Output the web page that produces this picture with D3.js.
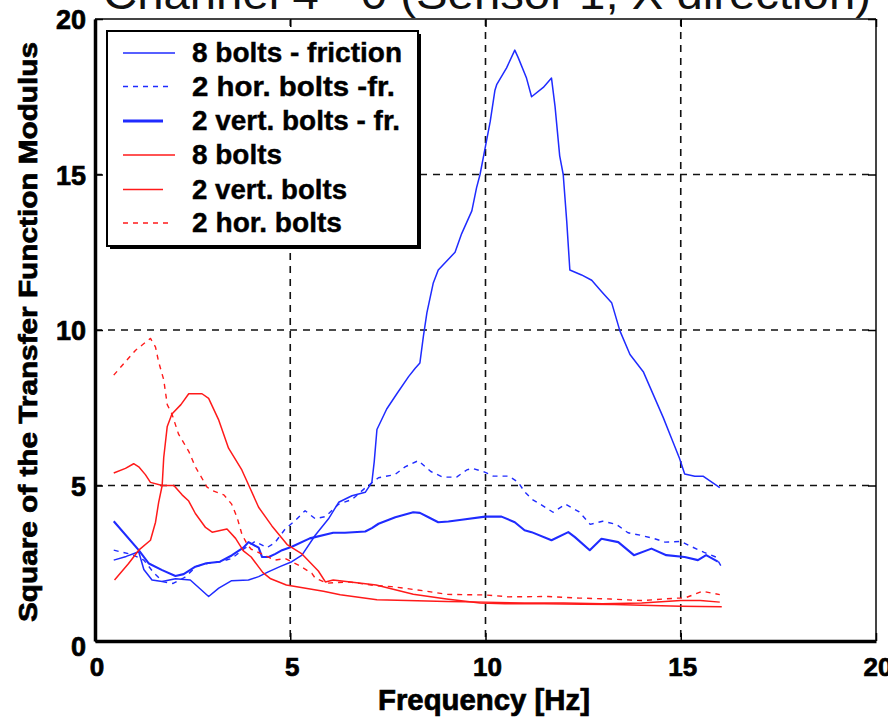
<!DOCTYPE html>
<html>
<head>
<meta charset="utf-8">
<script src="https://cdn.jsdelivr.net/npm/d3@7/dist/d3.min.js"></script>
<style>
  html, body { margin: 0; padding: 0; background: #fff; }
  svg { display: block; }
  .heavy { font-family: "Liberation Sans Narrow", "Liberation Sans", Arial, sans-serif; font-weight: bold; fill: #000; stroke: #000; stroke-width: 0.7px; }
</style>
</head>
<body>
<svg id="chart" width="888" height="718"></svg>
<script>
// ---------------- data ----------------
const titleText = "Channel 4 - 0 (Sensor 1, X direction)";
const xLabel = "Frequency [Hz]";
const yLabel = "Square of the Transfer Function Modulus";
const xTicks = [0, 5, 10, 15, 20];
const yTicks = [0, 5, 10, 15, 20];
const legendLabels = ["8 bolts - friction", "2 hor. bolts -fr.", "2 vert. bolts - fr.", "8 bolts", "2 vert. bolts", "2 hor. bolts"];

// [frequency Hz, value]
const bolts8Friction = [[0.48,2.6],[0.8,2.72],[1.12,2.87],[1.25,2.3],[1.46,1.96],[1.72,1.91],[2.06,2.0],[2.44,1.96],[2.91,1.43],[3.17,1.7],[3.5,1.94],[3.93,1.96],[4.19,2.07],[4.45,2.23],[4.75,2.4],[5.04,2.55],[5.3,2.76],[5.64,3.4],[5.98,3.93],[6.24,4.46],[6.58,4.67],[6.92,4.78],[7.09,5.1],[7.15,5.76],[7.22,6.8],[7.47,7.46],[7.73,7.95],[8.03,8.5],[8.2,8.77],[8.32,8.94],[8.41,9.8],[8.5,10.56],[8.66,11.5],[8.79,11.93],[9.22,12.5],[9.39,13.1],[9.65,13.83],[9.77,14.57],[9.86,15.0],[9.99,15.85],[10.12,16.7],[10.24,17.7],[10.29,17.9],[10.54,18.43],[10.75,19.0],[10.84,18.75],[11.05,18.1],[11.18,17.5],[11.48,17.8],[11.69,18.1],[11.78,17.2],[11.9,15.6],[11.99,15.0],[12.08,13.5],[12.16,11.93],[12.46,11.77],[12.72,11.6],[12.97,11.24],[13.23,10.88],[13.44,9.98],[13.7,9.21],[14.04,8.66],[14.21,8.17],[14.55,7.19],[14.76,6.53],[14.97,5.87],[15.1,5.37],[15.36,5.3],[15.57,5.3],[16.0,4.93]];
const horBoltsFriction = [[0.48,2.92],[0.95,2.78],[1.25,2.6],[1.5,2.2],[1.75,1.9],[2.0,1.85],[2.3,2.05],[2.6,2.4],[2.9,2.5],[3.2,2.55],[3.5,2.65],[3.8,2.95],[4.1,3.2],[4.4,3.0],[4.6,3.15],[4.87,3.6],[5.13,3.88],[5.38,4.19],[5.64,3.93],[5.9,4.0],[6.24,4.4],[6.58,4.55],[6.9,4.9],[7.26,5.25],[7.68,5.35],[7.94,5.6],[8.28,5.8],[8.6,5.45],[8.9,5.27],[9.26,5.27],[9.52,5.5],[9.65,5.55],[9.95,5.45],[10.2,5.3],[10.6,5.3],[10.84,5.1],[11.0,4.8],[11.2,4.55],[11.4,4.4],[11.73,4.14],[12.05,4.4],[12.4,4.15],[12.68,3.75],[13.0,3.85],[13.35,3.75],[13.65,3.48],[13.97,3.4],[14.3,3.3],[14.6,3.18],[15.0,3.2],[15.3,3.02],[15.6,2.85],[15.9,2.7],[16.04,2.39]];
const vertBoltsFriction = [[0.48,3.85],[1.12,2.92],[1.38,2.49],[1.72,2.28],[2.06,2.09],[2.27,2.15],[2.57,2.39],[2.85,2.5],[3.2,2.55],[3.5,2.75],[3.8,3.0],[3.93,3.18],[4.19,3.0],[4.28,2.7],[4.45,2.7],[4.62,2.8],[4.79,2.92],[5.04,3.03],[5.5,3.3],[6.1,3.48],[6.4,3.48],[6.92,3.52],[7.09,3.63],[7.26,3.77],[7.69,3.98],[8.15,4.14],[8.32,4.12],[8.54,3.98],[8.79,3.82],[9.05,3.84],[9.39,3.9],[9.99,4.0],[10.41,4.0],[10.75,3.82],[11.0,3.56],[11.18,3.5],[11.69,3.24],[12.12,3.5],[12.29,3.34],[12.67,2.92],[12.97,3.29],[13.4,3.18],[13.8,2.76],[14.25,2.97],[14.63,2.76],[15.1,2.7],[15.44,2.6],[15.65,2.76],[15.95,2.55]];
const bolts8 = [[0.5,1.96],[0.86,2.49],[1.12,2.92],[1.42,3.24],[1.55,3.82],[1.63,4.46],[1.72,5.0],[1.76,5.9],[1.85,6.9],[1.97,7.3],[2.2,7.6],[2.4,7.95],[2.74,7.95],[2.91,7.8],[3.17,7.1],[3.42,6.2],[3.76,5.5],[3.94,5.0],[4.19,4.3],[4.53,3.7],[4.92,3.1],[5.3,2.8],[5.72,2.25],[5.9,1.9],[6.1,1.96],[7.2,1.8],[8.15,1.5],[9.0,1.35],[9.86,1.22],[10.5,1.2],[11.5,1.2],[12.5,1.18],[13.3,1.17],[14.0,1.15],[15.0,1.12],[16.05,1.1]];
const vertBolts = [[0.48,5.4],[0.78,5.55],[0.99,5.7],[1.12,5.6],[1.29,5.35],[1.42,5.1],[1.72,5.0],[2.02,5.0],[2.23,4.7],[2.4,4.5],[2.57,4.1],[2.83,3.65],[3.0,3.5],[3.38,3.6],[3.6,3.3],[3.8,2.9],[4.0,2.7],[4.3,2.2],[4.5,2.0],[4.9,1.8],[5.85,1.6],[6.28,1.49],[7.22,1.33],[8.0,1.3],[9.0,1.27],[10.0,1.25],[11.0,1.22],[12.0,1.22],[13.0,1.2],[14.0,1.22],[15.0,1.3],[15.5,1.3],[16.0,1.25]];
const horBolts = [[0.48,8.55],[1.04,9.35],[1.42,9.73],[1.55,9.45],[1.63,8.97],[1.76,8.4],[1.85,7.6],[1.97,7.3],[2.14,6.65],[2.4,6.1],[2.57,5.6],[2.87,4.95],[3.0,4.84],[3.3,4.7],[3.5,4.4],[3.64,3.97],[3.76,3.44],[3.9,3.1],[4.0,2.95],[4.27,2.8],[4.6,2.6],[4.87,2.65],[5.21,2.44],[5.55,2.18],[5.64,2.02],[5.94,1.86],[6.5,1.9],[7.2,1.78],[7.6,1.75],[8.5,1.6],[9.0,1.5],[10.0,1.48],[10.6,1.42],[11.6,1.43],[12.4,1.38],[13.2,1.35],[14.0,1.3],[14.9,1.38],[15.1,1.38],[15.56,1.6],[16.0,1.49]];

const seriesData = [bolts8Friction, horBoltsFriction, vertBoltsFriction, bolts8, vertBolts, horBolts];
const seriesColors = ["#1f2bff", "#1f2bff", "#1f2bff", "#ff1a1a", "#ff1a1a", "#ff1a1a"];
const seriesWidths = [1.5, 1.4, 2.1, 1.5, 1.5, 1.4];
const seriesDash = [null, "5,5", null, null, null, "5,5"];
const legendSampleLen = [52, 47, 40, 52, 40, 47];
const legendTextLen = [210, 203, 208, 90, 155, 150];

// ---------------- drawing ----------------
const svg = d3.select("#chart");
const L = 95, R = 876, T = 19, B = 641;
const x = d3.scaleLinear().domain([0, 20]).range([L, R]);
const y = d3.scaleLinear().domain([0, 20]).range([B, T]);

// title (top cut off by the page edge, as in the reference)
svg.append("text")
  .attr("x", 103).attr("y", 9)
  .attr("textLength", 768).attr("lengthAdjust", "spacingAndGlyphs")
  .style("font-family", "'Liberation Sans', Arial, sans-serif")
  .style("font-size", "44px").style("fill", "#111")
  .text(titleText);

// grid
const grid = svg.append("g");
[5, 10, 15].forEach(v => {
  grid.append("line").attr("x1", x(v)).attr("x2", x(v)).attr("y1", T).attr("y2", B)
    .attr("stroke", "#111").attr("stroke-width", 1.6).attr("stroke-dasharray", "7,6");
  grid.append("line").attr("x1", L).attr("x2", R).attr("y1", y(v)).attr("y2", y(v))
    .attr("stroke", "#111").attr("stroke-width", 1.6).attr("stroke-dasharray", "7,6");
});

// series
const line = d3.line().x(d => x(d[0])).y(d => y(d[1]));
seriesData.forEach((s, i) => {
  svg.append("path").datum(s)
    .attr("d", line)
    .attr("fill", "none")
    .attr("stroke", seriesColors[i])
    .attr("stroke-width", seriesWidths[i])
    .attr("stroke-dasharray", seriesDash[i])
    .attr("stroke-linejoin", "round");
});

// frame
svg.append("line").attr("x1", L).attr("x2", R).attr("y1", T).attr("y2", T).attr("stroke", "#444").attr("stroke-width", 2);
svg.append("line").attr("x1", R).attr("x2", R).attr("y1", T).attr("y2", B).attr("stroke", "#444").attr("stroke-width", 2);

// axes via d3 axis generators
const xAxisB = d3.axisBottom(x).tickValues(xTicks).tickSizeInner(-8).tickSizeOuter(0).tickFormat("");
const gxb = svg.append("g").attr("transform", `translate(0,${B})`).call(xAxisB);
gxb.select(".domain").attr("stroke", "#000").attr("stroke-width", 3.5);
gxb.selectAll(".tick line").attr("stroke", "#000").attr("stroke-width", 1.5);

const xAxisT = d3.axisTop(x).tickValues(xTicks).tickSizeInner(-8).tickSizeOuter(0).tickFormat("");
const gxt = svg.append("g").attr("transform", `translate(0,${T})`).call(xAxisT);
gxt.select(".domain").remove();
gxt.selectAll(".tick line").attr("stroke", "#000").attr("stroke-width", 1.5);

const yAxisL = d3.axisLeft(y).tickValues(yTicks).tickSizeInner(-8).tickSizeOuter(0).tickFormat("");
const gyl = svg.append("g").attr("transform", `translate(${L},0)`).call(yAxisL);
gyl.select(".domain").attr("stroke", "#000").attr("stroke-width", 3.5);
gyl.selectAll(".tick line").attr("stroke", "#000").attr("stroke-width", 1.5);

const yAxisR = d3.axisRight(y).tickValues(yTicks).tickSizeInner(-8).tickSizeOuter(0).tickFormat("");
const gyr = svg.append("g").attr("transform", `translate(${R},0)`).call(yAxisR);
gyr.select(".domain").remove();
gyr.selectAll(".tick line").attr("stroke", "#000").attr("stroke-width", 1.5);

// tick labels
svg.append("g").selectAll("text").data(xTicks).join("text")
  .attr("class", "heavy")
  .attr("x", d => x(d) + 2).attr("y", B + 35)
  .attr("text-anchor", "middle")
  .style("font-size", "26px")
  .text(d => d);
svg.append("g").selectAll("text").data(yTicks).join("text")
  .attr("class", "heavy")
  .attr("x", 86).attr("y", d => y(d) + 10 + (d === 0 ? 5 : 0))
  .attr("text-anchor", "end")
  .style("font-size", "27px")
  .text(d => d);

// axis titles
svg.append("text").attr("class", "heavy")
  .attr("x", 378).attr("y", 710)
  .attr("textLength", 212).attr("lengthAdjust", "spacingAndGlyphs")
  .style("font-size", "29px")
  .text(xLabel);
svg.append("text").attr("class", "heavy")
  .attr("transform", "translate(37,622) rotate(-90)")
  .attr("x", 0).attr("y", 0)
  .attr("textLength", 580).attr("lengthAdjust", "spacingAndGlyphs")
  .style("font-size", "25px")
  .text(yLabel);

// legend
const lg = svg.append("g");
lg.append("rect").attr("x", 110).attr("y", 34).attr("width", 311).attr("height", 215).attr("fill", "#000");
lg.append("rect").attr("x", 107).attr("y", 31).attr("width", 311).attr("height", 215)
  .attr("fill", "#fff").attr("stroke", "#000").attr("stroke-width", 2);
const rowY = [53, 86.5, 121, 155, 189.5, 223];
legendLabels.forEach((lab, i) => {
  lg.append("line").attr("x1", 123).attr("x2", 123 + legendSampleLen[i])
    .attr("y1", rowY[i]).attr("y2", rowY[i])
    .attr("stroke", seriesColors[i]).attr("stroke-width", i === 2 ? 3 : 1.6)
    .attr("stroke-dasharray", seriesDash[i] ? "5,5" : null);
  lg.append("text").attr("class", "heavy")
    .attr("x", 192).attr("y", rowY[i] + 9)
    .attr("textLength", legendTextLen[i]).attr("lengthAdjust", "spacingAndGlyphs")
    .style("font-size", "27px").style("stroke-width", "0.4px")
    .text(lab);
});
</script>
</body>
</html>
